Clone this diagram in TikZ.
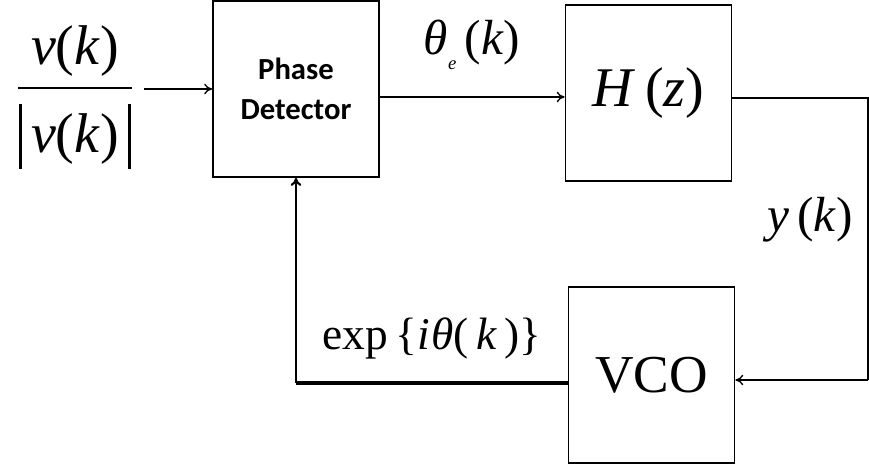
\documentclass[tikz,border=0pt]{standalone}
\usepackage{fontspec}
\setmainfont{Liberation Serif}
\newfontfamily\pdfont{Carlito}
\usepackage{tikz}
\usetikzlibrary{arrows.meta,positioning}
\newcommand{\vk}{\textit{v}(\textit{k})}
\newcommand{\absbar}{\rule[-0.28em]{1.8pt}{1.15em}}

\begin{document}
\begin{tikzpicture}[
  x=0.75pt, y=-0.75pt,
  blockbox/.style={draw, line width=1.3pt, minimum width=124.5pt, minimum height=132pt, inner sep=0pt},
  sig/.style={line width=1pt, -{To[length=6pt,width=8pt]}},
  fbline/.style={line width=2.6pt},
  mathlbl/.style={font=\fontsize{37}{40}\selectfont, inner sep=0pt}
]
  \useasboundingbox (0,0) rectangle (869,466);
  \node[blockbox, font=\pdfont\bfseries\fontsize{23}{30}\selectfont, align=center] (pd) at (296,89) {Phase\\Detector};
  \node[blockbox, font=\fontsize{42}{44}\selectfont] (hz) at (648.5,93) {\textit{H}\,(\textit{z})};
  \node[blockbox, font=\fontsize{40}{44}\selectfont] (vco) at (651.5,375) {VCO};
  \node[mathlbl, font=\fontsize{42}{48}\selectfont, inner xsep=9pt] (vin) at (75,96)
    {\setlength{\arrayrulewidth}{1.5pt}\begin{tabular}{@{\kern1pt}c@{\kern1pt}}\vk\\[2pt]\hline\rule{0pt}{1.15em}\absbar\,\vk\,\absbar\end{tabular}};
  \node[mathlbl] (theta) at (472,45) {\textit{θ}\raisebox{-0.3em}{\fontsize{14}{14}\selectfont\textit{e}}\,(\textit{k})};
  \node[mathlbl] (yk) at (810,220) {\textit{y}\,(\textit{k})};
  \node[mathlbl, font=\fontsize{34}{38}\selectfont] (expo) at (432,338) {exp\,\{\textit{i\kern1pt θ}(\,\textit{k}\,)\}};
  \coordinate (c1) at (868,98);
  \coordinate (c2) at (868,380);
  \coordinate (c3) at (296,383);
  \draw[sig] (vin.east |- pd.west) -- (pd.west);
  \draw[sig] (pd.east |- 0,97) -- (hz.west |- 0,97);
  \draw[line width=1pt] (hz.east |- c1) -- (c1) -- (c2);
  \draw[sig] (c2) -- (vco.east |- c2);
  \draw[fbline] (vco.west |- c3) -- (c3);
  \draw[sig, line width=1.6pt] (c3) -- (pd.south);
\end{tikzpicture}
\end{document}
